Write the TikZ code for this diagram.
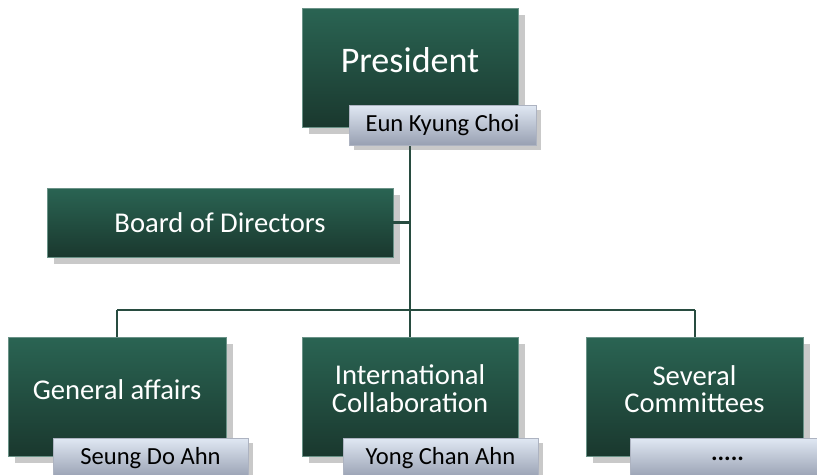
\documentclass[tikz,border=0pt]{standalone}
\usepackage{fontspec}
\setmainfont{Carlito}
\usetikzlibrary{positioning}
\usetikzlibrary{shadows}
\definecolor{boxTop}{RGB}{42,100,83}
\definecolor{boxBottom}{RGB}{26,56,46}
\definecolor{nameTop}{RGB}{224,232,243}
\definecolor{nameBottom}{RGB}{152,160,178}
\definecolor{lineColor}{RGB}{40,76,64}
\begin{document}
\begin{tikzpicture}[x=0.02cm,y=-0.02cm]

            \tikzstyle{unitBox} = [rectangle, top color=boxTop, bottom color=boxBottom,
              draw=boxTop!70!white, line width=0.4pt, text=white, align=center,
              drop shadow={shadow xshift=4pt, shadow yshift=-4pt, opacity=0.3, fill=black!70},
              font=\fontsize{16.3}{17}\selectfont];
            \tikzstyle{nameBox} = [rectangle, top color=nameTop, bottom color=nameBottom,
              draw=nameBottom!80!white, line width=0.3pt, text=black, inner sep=0pt,
              minimum width=3.9cm, minimum height=0.8cm,
              drop shadow={shadow xshift=3pt, shadow yshift=-3pt, opacity=0.3, fill=black!70},
              font=\fontsize{14}{15}\selectfont];
            \tikzstyle{orgLine} = [lineColor, line width=1.2pt];

            \useasboundingbox (0,0) rectangle (817,474);

            % connectors first, boxes go on top
            \coordinate (top)   at (410,100);
            \coordinate (bus)   at (410,310);
            \coordinate (board joint) at (410,222.5);
            \coordinate (busL)  at (117,310);
            \coordinate (busR)  at (695,310);

            \draw[orgLine] (top) -- (bus);
            \draw[orgLine] (busL) -- (busR);
            \draw[orgLine] (busL) -- (117,380);
            \draw[orgLine] (bus) -- (410,380);
            \draw[orgLine] (busR) -- (695,380);

            \node[unitBox, minimum width=4.32cm, minimum height=2.38cm,
              font=\fontsize{20.5}{22}\selectfont] (pres) at (410,67.5) {\raisebox{8pt}{President}};
            \node[nameBox, minimum width=3.74cm] (presName) at (442.5,125) {Eun Kyung Choi};

            \node[unitBox, minimum width=6.92cm, minimum height=1.38cm] (board) at (220,222.5) {Board of Directors};
            \draw[orgLine] (board.east) -- (board joint);

            \node[unitBox, minimum width=4.36cm, minimum height=2.38cm] (ga) at (117,396.5) {\raisebox{8pt}{General affairs}};
            \node[unitBox, minimum width=4.32cm, minimum height=2.38cm] (ic) at (410,396.5) {\raisebox{9pt}{\shortstack{International\\[1pt]Collaboration}}};
            \node[unitBox, minimum width=4.34cm, minimum height=2.38cm] (sc) at (694.5,396.5) {\raisebox{9pt}{\shortstack{Several\\[1pt]Committees}}};

            \node[nameBox] (gaName) at (150.5,458) {Seung Do Ahn};
            \node[nameBox] (icName) at (440.5,458) {Yong Chan Ahn};
            \node[nameBox] (scName) at (727.5,458) {\raisebox{-3pt}{\textbf{.....}}};
          \end{tikzpicture}
\end{document}
